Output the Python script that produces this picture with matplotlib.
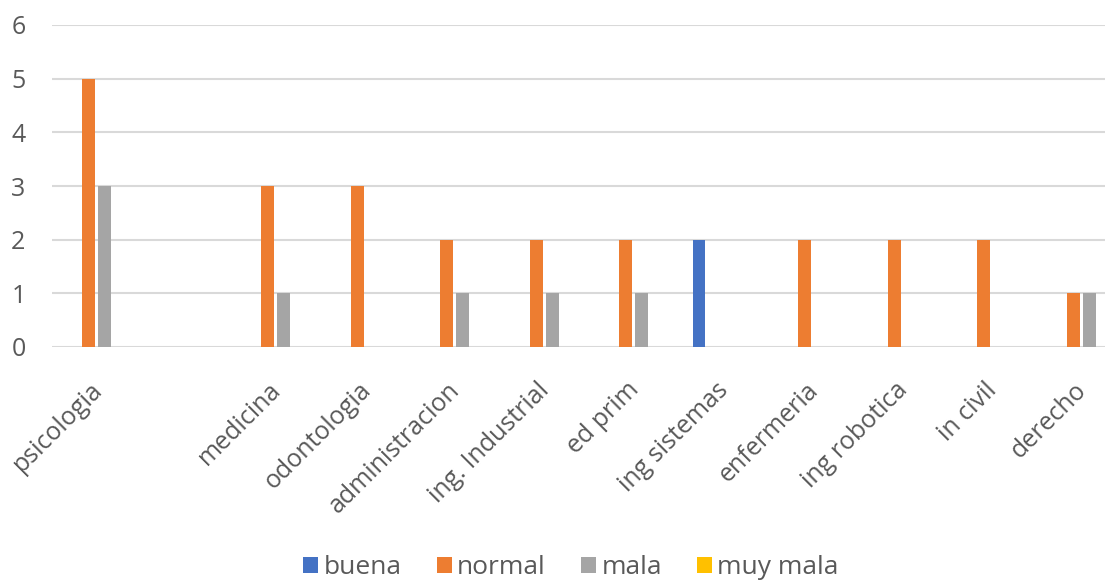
import numpy as np
import matplotlib
matplotlib.use("Agg")
import matplotlib.pyplot as plt
from matplotlib.transforms import ScaledTranslation

carreras = ["psicologia", "", "medicina", "odontologia", "administracion",
            "ing. Industrial", "ed prim", "ing sistemas", "enfermeria",
            "ing robotica", "in civil", "derecho"]
buena = [0, 0, 0, 0, 0, 0, 0, 2, 0, 0, 0, 0]
normal = [5, 0, 3, 3, 2, 2, 2, 0, 2, 2, 2, 1]
mala = [3, 0, 1, 0, 1, 1, 1, 0, 0, 0, 0, 1]
muy_mala = [0, 0, 0, 0, 0, 0, 0, 0, 0, 0, 0, 0]

series = [("buena", buena, "#4472C4"), ("normal", normal, "#ED7D31"),
          ("mala", mala, "#A5A5A5"), ("muy mala", muy_mala, "#FFC000")]

plt.rcParams['font.family'] = ['Open Sans', 'DejaVu Sans']
texto = "#595959"

fig = plt.figure(figsize=(11.05, 5.83), dpi=100)
# el grafico original esta recortado a la derecha
ax = fig.add_axes([52 / 1105, 236 / 583, 12 * 89.5 / 1105, 322 / 583])

x = np.arange(len(carreras))
paso = 0.179
ancho = 0.14
for i, (nombre, vals, color) in enumerate(series):
    ax.bar(x + (i - 1.5) * paso, vals, ancho, color=color, label=nombre, zorder=3)

ax.set_xlim(-0.5, len(carreras) - 0.5)
ax.set_ylim(0, 6)
ax.set_yticks(range(0, 7))
ax.grid(axis="y", color="#D9D9D9", linewidth=1.5, zorder=0)
for s in ax.spines.values():
    s.set_visible(False)
ax.tick_params(axis="y", length=0, pad=19, labelsize=18, labelcolor=texto)
ax.tick_params(axis="x", length=0, pad=22, labelsize=18, labelcolor=texto)
ax.set_xticks(x)
ax.set_xticklabels(carreras, rotation=45, ha="right", va="top", rotation_mode="anchor")
mover = ScaledTranslation(-7 / 100, 0, fig.dpi_scale_trans)
for lab in ax.get_xticklabels():
    lab.set_transform(lab.get_transform() + mover)

handles, labels = ax.get_legend_handles_labels()
fig.legend(handles, labels, loc="center", bbox_to_anchor=(571 / 1105, 1 - 568 / 583),
           ncol=4, frameon=False, fontsize=19, labelcolor=texto,
           handlelength=0.57, handleheight=0.57, handletextpad=0.2, columnspacing=1.33)

fig.savefig("out.png", dpi=100)
